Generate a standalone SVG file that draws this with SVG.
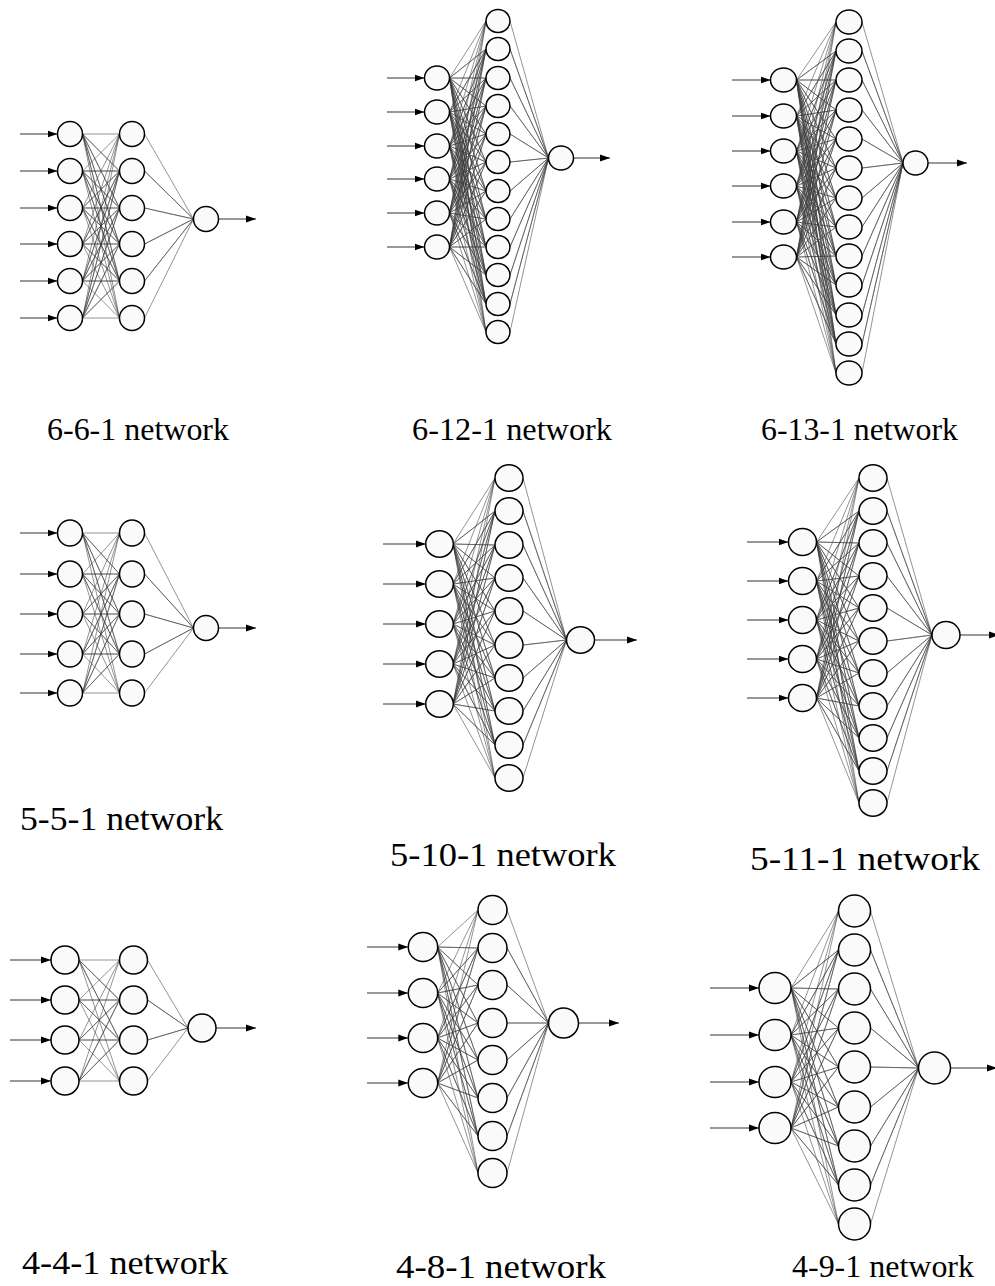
<svg xmlns="http://www.w3.org/2000/svg" width="995" height="1286" viewBox="0 0 995 1286">
<defs>
<style>
.n{fill:#fafafa;stroke:#000;stroke-width:1.5}
.e{fill:none;stroke:#3a3a3a;stroke-width:0.55;stroke-linejoin:round}
.a{fill:none;stroke:#333;stroke-width:1;marker-end:url(#ah)}
.t{font-family:"Liberation Serif","Times New Roman",serif;fill:#000}
</style>
<marker id="ah" markerUnits="userSpaceOnUse" markerWidth="10" markerHeight="8" refX="10" refY="4" orient="auto"><path d="M0,0.5L10,4L0,7.5z" fill="#000"/></marker>
</defs>
<rect width="995" height="1286" fill="#fff"/>

<!-- ===== 6-6-1 ===== -->
<g id="net-661">
<g id="net-661-edges">
<path class="e" d="M119.5,134 82.5,134 119.5,171 82.5,134 119.5,208 82.5,134 119.5,244 82.5,134 119.5,281 82.5,134 119.5,318
M119.5,134 82.5,171 119.5,171 82.5,171 119.5,208 82.5,171 119.5,244 82.5,171 119.5,281 82.5,171 119.5,318
M119.5,134 82.5,208 119.5,171 82.5,208 119.5,208 82.5,208 119.5,244 82.5,208 119.5,281 82.5,208 119.5,318
M119.5,134 82.5,244 119.5,171 82.5,244 119.5,208 82.5,244 119.5,244 82.5,244 119.5,281 82.5,244 119.5,318
M119.5,134 82.5,281 119.5,171 82.5,281 119.5,208 82.5,281 119.5,244 82.5,281 119.5,281 82.5,281 119.5,318
M119.5,134 82.5,318 119.5,171 82.5,318 119.5,208 82.5,318 119.5,244 82.5,318 119.5,281 82.5,318 119.5,318
M144.5,134 193.5,219 144.5,171 193.5,219 144.5,208 193.5,219 144.5,244 193.5,219 144.5,281 193.5,219 144.5,318"/>
<line class="a" x1="20" y1="134" x2="57.5" y2="134"/>
<line class="a" x1="20" y1="171" x2="57.5" y2="171"/>
<line class="a" x1="20" y1="208" x2="57.5" y2="208"/>
<line class="a" x1="20" y1="244" x2="57.5" y2="244"/>
<line class="a" x1="20" y1="281" x2="57.5" y2="281"/>
<line class="a" x1="20" y1="318" x2="57.5" y2="318"/>
<line class="a" x1="218.5" y1="219" x2="256" y2="219"/>
</g>
<g id="n661-i1"><ellipse class="n" cx="70" cy="134" rx="12.5" ry="12.5"/></g>
<g id="n661-i2"><ellipse class="n" cx="70" cy="171" rx="12.5" ry="12.5"/></g>
<g id="n661-i3"><ellipse class="n" cx="70" cy="208" rx="12.5" ry="12.5"/></g>
<g id="n661-i4"><ellipse class="n" cx="70" cy="244" rx="12.5" ry="12.5"/></g>
<g id="n661-i5"><ellipse class="n" cx="70" cy="281" rx="12.5" ry="12.5"/></g>
<g id="n661-i6"><ellipse class="n" cx="70" cy="318" rx="12.5" ry="12.5"/></g>
<g id="n661-h1"><ellipse class="n" cx="132" cy="134" rx="12.5" ry="12.5"/></g>
<g id="n661-h2"><ellipse class="n" cx="132" cy="171" rx="12.5" ry="12.5"/></g>
<g id="n661-h3"><ellipse class="n" cx="132" cy="208" rx="12.5" ry="12.5"/></g>
<g id="n661-h4"><ellipse class="n" cx="132" cy="244" rx="12.5" ry="12.5"/></g>
<g id="n661-h5"><ellipse class="n" cx="132" cy="281" rx="12.5" ry="12.5"/></g>
<g id="n661-h6"><ellipse class="n" cx="132" cy="318" rx="12.5" ry="12.5"/></g>
<g id="n661-o1"><ellipse class="n" cx="206" cy="219" rx="12.5" ry="12.5"/></g>
<text class="t" x="47" y="440" font-size="31" textLength="182" lengthAdjust="spacingAndGlyphs">6-6-1 network</text>
</g>

<!-- ===== 6-12-1 ===== -->
<g id="net-6121">
<g id="net-6121-edges">
<path class="e" d="M486,21 449.5,78 486,49 449.5,78 486,78 449.5,78 486,106 449.5,78 486,134 449.5,78 486,162 449.5,78 486,191 449.5,78 486,219 449.5,78 486,247 449.5,78 486,275 449.5,78 486,304 449.5,78 486,332
M486,21 449.5,112 486,49 449.5,112 486,78 449.5,112 486,106 449.5,112 486,134 449.5,112 486,162 449.5,112 486,191 449.5,112 486,219 449.5,112 486,247 449.5,112 486,275 449.5,112 486,304 449.5,112 486,332
M486,21 449.5,146 486,49 449.5,146 486,78 449.5,146 486,106 449.5,146 486,134 449.5,146 486,162 449.5,146 486,191 449.5,146 486,219 449.5,146 486,247 449.5,146 486,275 449.5,146 486,304 449.5,146 486,332
M486,21 449.5,179 486,49 449.5,179 486,78 449.5,179 486,106 449.5,179 486,134 449.5,179 486,162 449.5,179 486,191 449.5,179 486,219 449.5,179 486,247 449.5,179 486,275 449.5,179 486,304 449.5,179 486,332
M486,21 449.5,213 486,49 449.5,213 486,78 449.5,213 486,106 449.5,213 486,134 449.5,213 486,162 449.5,213 486,191 449.5,213 486,219 449.5,213 486,247 449.5,213 486,275 449.5,213 486,304 449.5,213 486,332
M486,21 449.5,247 486,49 449.5,247 486,78 449.5,247 486,106 449.5,247 486,134 449.5,247 486,162 449.5,247 486,191 449.5,247 486,219 449.5,247 486,247 449.5,247 486,275 449.5,247 486,304 449.5,247 486,332
M510,21 548.5,158 510,49 548.5,158 510,78 548.5,158 510,106 548.5,158 510,134 548.5,158 510,162 548.5,158 510,191 548.5,158 510,219 548.5,158 510,247 548.5,158 510,275 548.5,158 510,304 548.5,158 510,332"/>
<line class="a" x1="387" y1="78" x2="424.5" y2="78"/>
<line class="a" x1="387" y1="112" x2="424.5" y2="112"/>
<line class="a" x1="387" y1="146" x2="424.5" y2="146"/>
<line class="a" x1="387" y1="179" x2="424.5" y2="179"/>
<line class="a" x1="387" y1="213" x2="424.5" y2="213"/>
<line class="a" x1="387" y1="247" x2="424.5" y2="247"/>
<line class="a" x1="573.5" y1="158" x2="610" y2="158"/>
</g>
<g id="n6121-i1"><ellipse class="n" cx="437" cy="78" rx="12.5" ry="12"/></g>
<g id="n6121-i2"><ellipse class="n" cx="437" cy="112" rx="12.5" ry="12"/></g>
<g id="n6121-i3"><ellipse class="n" cx="437" cy="146" rx="12.5" ry="12"/></g>
<g id="n6121-i4"><ellipse class="n" cx="437" cy="179" rx="12.5" ry="12"/></g>
<g id="n6121-i5"><ellipse class="n" cx="437" cy="213" rx="12.5" ry="12"/></g>
<g id="n6121-i6"><ellipse class="n" cx="437" cy="247" rx="12.5" ry="12"/></g>
<g id="n6121-h1"><ellipse class="n" cx="498" cy="21" rx="12" ry="11.5"/></g>
<g id="n6121-h2"><ellipse class="n" cx="498" cy="49" rx="12" ry="11.5"/></g>
<g id="n6121-h3"><ellipse class="n" cx="498" cy="78" rx="12" ry="11.5"/></g>
<g id="n6121-h4"><ellipse class="n" cx="498" cy="106" rx="12" ry="11.5"/></g>
<g id="n6121-h5"><ellipse class="n" cx="498" cy="134" rx="12" ry="11.5"/></g>
<g id="n6121-h6"><ellipse class="n" cx="498" cy="162" rx="12" ry="11.5"/></g>
<g id="n6121-h7"><ellipse class="n" cx="498" cy="191" rx="12" ry="11.5"/></g>
<g id="n6121-h8"><ellipse class="n" cx="498" cy="219" rx="12" ry="11.5"/></g>
<g id="n6121-h9"><ellipse class="n" cx="498" cy="247" rx="12" ry="11.5"/></g>
<g id="n6121-h10"><ellipse class="n" cx="498" cy="275" rx="12" ry="11.5"/></g>
<g id="n6121-h11"><ellipse class="n" cx="498" cy="304" rx="12" ry="11.5"/></g>
<g id="n6121-h12"><ellipse class="n" cx="498" cy="332" rx="12" ry="11.5"/></g>
<g id="n6121-o1"><ellipse class="n" cx="561" cy="158" rx="12.5" ry="12"/></g>
<text class="t" x="412" y="440" font-size="31" textLength="200" lengthAdjust="spacingAndGlyphs">6-12-1 network</text>
</g>

<!-- ===== 6-13-1 ===== -->
<g id="net-6131">
<g id="net-6131-edges">
<path class="e" d="M836,22 796.5,80 836,51 796.5,80 836,80 796.5,80 836,110 796.5,80 836,139 796.5,80 836,168 796.5,80 836,198 796.5,80 836,227 796.5,80 836,256 796.5,80 836,285 796.5,80 836,315 796.5,80 836,344 796.5,80 836,373
M836,22 796.5,116 836,51 796.5,116 836,80 796.5,116 836,110 796.5,116 836,139 796.5,116 836,168 796.5,116 836,198 796.5,116 836,227 796.5,116 836,256 796.5,116 836,285 796.5,116 836,315 796.5,116 836,344 796.5,116 836,373
M836,22 796.5,151 836,51 796.5,151 836,80 796.5,151 836,110 796.5,151 836,139 796.5,151 836,168 796.5,151 836,198 796.5,151 836,227 796.5,151 836,256 796.5,151 836,285 796.5,151 836,315 796.5,151 836,344 796.5,151 836,373
M836,22 796.5,186 836,51 796.5,186 836,80 796.5,186 836,110 796.5,186 836,139 796.5,186 836,168 796.5,186 836,198 796.5,186 836,227 796.5,186 836,256 796.5,186 836,285 796.5,186 836,315 796.5,186 836,344 796.5,186 836,373
M836,22 796.5,222 836,51 796.5,222 836,80 796.5,222 836,110 796.5,222 836,139 796.5,222 836,168 796.5,222 836,198 796.5,222 836,227 796.5,222 836,256 796.5,222 836,285 796.5,222 836,315 796.5,222 836,344 796.5,222 836,373
M836,22 796.5,257 836,51 796.5,257 836,80 796.5,257 836,110 796.5,257 836,139 796.5,257 836,168 796.5,257 836,198 796.5,257 836,227 796.5,257 836,256 796.5,257 836,285 796.5,257 836,315 796.5,257 836,344 796.5,257 836,373
M862,22 903,163 862,51 903,163 862,80 903,163 862,110 903,163 862,139 903,163 862,168 903,163 862,198 903,163 862,227 903,163 862,256 903,163 862,285 903,163 862,315 903,163 862,344 903,163 862,373"/>
<line class="a" x1="732" y1="80" x2="770.5" y2="80"/>
<line class="a" x1="732" y1="116" x2="770.5" y2="116"/>
<line class="a" x1="732" y1="151" x2="770.5" y2="151"/>
<line class="a" x1="732" y1="186" x2="770.5" y2="186"/>
<line class="a" x1="732" y1="222" x2="770.5" y2="222"/>
<line class="a" x1="732" y1="257" x2="770.5" y2="257"/>
<line class="a" x1="928" y1="163" x2="967" y2="163"/>
</g>
<g id="n6131-i1"><ellipse class="n" cx="783.5" cy="80" rx="13" ry="12"/></g>
<g id="n6131-i2"><ellipse class="n" cx="783.5" cy="116" rx="13" ry="12"/></g>
<g id="n6131-i3"><ellipse class="n" cx="783.5" cy="151" rx="13" ry="12"/></g>
<g id="n6131-i4"><ellipse class="n" cx="783.5" cy="186" rx="13" ry="12"/></g>
<g id="n6131-i5"><ellipse class="n" cx="783.5" cy="222" rx="13" ry="12"/></g>
<g id="n6131-i6"><ellipse class="n" cx="783.5" cy="257" rx="13" ry="12"/></g>
<g id="n6131-h1"><ellipse class="n" cx="849" cy="22" rx="13" ry="12"/></g>
<g id="n6131-h2"><ellipse class="n" cx="849" cy="51" rx="13" ry="12"/></g>
<g id="n6131-h3"><ellipse class="n" cx="849" cy="80" rx="13" ry="12"/></g>
<g id="n6131-h4"><ellipse class="n" cx="849" cy="110" rx="13" ry="12"/></g>
<g id="n6131-h5"><ellipse class="n" cx="849" cy="139" rx="13" ry="12"/></g>
<g id="n6131-h6"><ellipse class="n" cx="849" cy="168" rx="13" ry="12"/></g>
<g id="n6131-h7"><ellipse class="n" cx="849" cy="198" rx="13" ry="12"/></g>
<g id="n6131-h8"><ellipse class="n" cx="849" cy="227" rx="13" ry="12"/></g>
<g id="n6131-h9"><ellipse class="n" cx="849" cy="256" rx="13" ry="12"/></g>
<g id="n6131-h10"><ellipse class="n" cx="849" cy="285" rx="13" ry="12"/></g>
<g id="n6131-h11"><ellipse class="n" cx="849" cy="315" rx="13" ry="12"/></g>
<g id="n6131-h12"><ellipse class="n" cx="849" cy="344" rx="13" ry="12"/></g>
<g id="n6131-h13"><ellipse class="n" cx="849" cy="373" rx="13" ry="12"/></g>
<g id="n6131-o1"><ellipse class="n" cx="915.5" cy="163" rx="12.5" ry="12"/></g>
<text class="t" x="761" y="440" font-size="31" textLength="197" lengthAdjust="spacingAndGlyphs">6-13-1 network</text>
</g>

<!-- ===== 5-5-1 ===== -->
<g id="net-551">
<g id="net-551-edges">
<path class="e" d="M119.5,533 82.5,533 119.5,574 82.5,533 119.5,614 82.5,533 119.5,654 82.5,533 119.5,693
M119.5,533 82.5,574 119.5,574 82.5,574 119.5,614 82.5,574 119.5,654 82.5,574 119.5,693
M119.5,533 82.5,614 119.5,574 82.5,614 119.5,614 82.5,614 119.5,654 82.5,614 119.5,693
M119.5,533 82.5,654 119.5,574 82.5,654 119.5,614 82.5,654 119.5,654 82.5,654 119.5,693
M119.5,533 82.5,693 119.5,574 82.5,693 119.5,614 82.5,693 119.5,654 82.5,693 119.5,693
M144.5,533 193.5,628 144.5,574 193.5,628 144.5,614 193.5,628 144.5,654 193.5,628 144.5,693"/>
<line class="a" x1="20" y1="533" x2="57.5" y2="533"/>
<line class="a" x1="20" y1="574" x2="57.5" y2="574"/>
<line class="a" x1="20" y1="614" x2="57.5" y2="614"/>
<line class="a" x1="20" y1="654" x2="57.5" y2="654"/>
<line class="a" x1="20" y1="693" x2="57.5" y2="693"/>
<line class="a" x1="218.5" y1="628" x2="256" y2="628"/>
</g>
<g id="n551-i1"><ellipse class="n" cx="70" cy="533" rx="12.5" ry="13"/></g>
<g id="n551-i2"><ellipse class="n" cx="70" cy="574" rx="12.5" ry="13"/></g>
<g id="n551-i3"><ellipse class="n" cx="70" cy="614" rx="12.5" ry="13"/></g>
<g id="n551-i4"><ellipse class="n" cx="70" cy="654" rx="12.5" ry="13"/></g>
<g id="n551-i5"><ellipse class="n" cx="70" cy="693" rx="12.5" ry="13"/></g>
<g id="n551-h1"><ellipse class="n" cx="132" cy="533" rx="12.5" ry="13"/></g>
<g id="n551-h2"><ellipse class="n" cx="132" cy="574" rx="12.5" ry="13"/></g>
<g id="n551-h3"><ellipse class="n" cx="132" cy="614" rx="12.5" ry="13"/></g>
<g id="n551-h4"><ellipse class="n" cx="132" cy="654" rx="12.5" ry="13"/></g>
<g id="n551-h5"><ellipse class="n" cx="132" cy="693" rx="12.5" ry="13"/></g>
<g id="n551-o1"><ellipse class="n" cx="206" cy="628" rx="12.5" ry="12.5"/></g>
<text class="t" x="20" y="830" font-size="33" textLength="203" lengthAdjust="spacingAndGlyphs">5-5-1 network</text>
</g>

<!-- ===== 5-10-1 ===== -->
<g id="net-5101">
<g id="net-5101-edges">
<path class="e" d="M495,478 453,544 495,511 453,544 495,545 453,544 495,578 453,544 495,611 453,544 495,645 453,544 495,678 453,544 495,711 453,544 495,745 453,544 495,778
M495,478 453,584 495,511 453,584 495,545 453,584 495,578 453,584 495,611 453,584 495,645 453,584 495,678 453,584 495,711 453,584 495,745 453,584 495,778
M495,478 453,624 495,511 453,624 495,545 453,624 495,578 453,624 495,611 453,624 495,645 453,624 495,678 453,624 495,711 453,624 495,745 453,624 495,778
M495,478 453,664 495,511 453,664 495,545 453,664 495,578 453,664 495,611 453,664 495,645 453,664 495,678 453,664 495,711 453,664 495,745 453,664 495,778
M495,478 453,704 495,511 453,704 495,545 453,704 495,578 453,704 495,611 453,704 495,645 453,704 495,678 453,704 495,711 453,704 495,745 453,704 495,778
M523,478 566.5,640 523,511 566.5,640 523,545 566.5,640 523,578 566.5,640 523,611 566.5,640 523,645 566.5,640 523,678 566.5,640 523,711 566.5,640 523,745 566.5,640 523,778"/>
<line class="a" x1="383" y1="544" x2="425.7" y2="544"/>
<line class="a" x1="383" y1="584" x2="425.7" y2="584"/>
<line class="a" x1="383" y1="624" x2="425.7" y2="624"/>
<line class="a" x1="383" y1="664" x2="425.7" y2="664"/>
<line class="a" x1="383" y1="704" x2="425.7" y2="704"/>
<line class="a" x1="594.5" y1="640" x2="637" y2="640"/>
</g>
<g id="n5101-i1"><ellipse class="n" cx="439.5" cy="544" rx="13.8" ry="13.3"/></g>
<g id="n5101-i2"><ellipse class="n" cx="439.5" cy="584" rx="13.8" ry="13.3"/></g>
<g id="n5101-i3"><ellipse class="n" cx="439.5" cy="624" rx="13.8" ry="13.3"/></g>
<g id="n5101-i4"><ellipse class="n" cx="439.5" cy="664" rx="13.8" ry="13.3"/></g>
<g id="n5101-i5"><ellipse class="n" cx="439.5" cy="704" rx="13.8" ry="13.3"/></g>
<g id="n5101-h1"><ellipse class="n" cx="509" cy="478" rx="14" ry="13.3"/></g>
<g id="n5101-h2"><ellipse class="n" cx="509" cy="511" rx="14" ry="13.3"/></g>
<g id="n5101-h3"><ellipse class="n" cx="509" cy="545" rx="14" ry="13.3"/></g>
<g id="n5101-h4"><ellipse class="n" cx="509" cy="578" rx="14" ry="13.3"/></g>
<g id="n5101-h5"><ellipse class="n" cx="509" cy="611" rx="14" ry="13.3"/></g>
<g id="n5101-h6"><ellipse class="n" cx="509" cy="645" rx="14" ry="13.3"/></g>
<g id="n5101-h7"><ellipse class="n" cx="509" cy="678" rx="14" ry="13.3"/></g>
<g id="n5101-h8"><ellipse class="n" cx="509" cy="711" rx="14" ry="13.3"/></g>
<g id="n5101-h9"><ellipse class="n" cx="509" cy="745" rx="14" ry="13.3"/></g>
<g id="n5101-h10"><ellipse class="n" cx="509" cy="778" rx="14" ry="13.3"/></g>
<g id="n5101-o1"><ellipse class="n" cx="580.5" cy="640" rx="14" ry="13.3"/></g>
<text class="t" x="390" y="866" font-size="33" textLength="226" lengthAdjust="spacingAndGlyphs">5-10-1 network</text>
</g>

<!-- ===== 5-11-1 ===== -->
<g id="net-5111">
<g id="net-5111-edges">
<path class="e" d="M859,478 816.5,542 859,511 816.5,542 859,543 816.5,542 859,576 816.5,542 859,608 816.5,542 859,641 816.5,542 859,673 816.5,542 859,706 816.5,542 859,738 816.5,542 859,771 816.5,542 859,803
M859,478 816.5,581 859,511 816.5,581 859,543 816.5,581 859,576 816.5,581 859,608 816.5,581 859,641 816.5,581 859,673 816.5,581 859,706 816.5,581 859,738 816.5,581 859,771 816.5,581 859,803
M859,478 816.5,620 859,511 816.5,620 859,543 816.5,620 859,576 816.5,620 859,608 816.5,620 859,641 816.5,620 859,673 816.5,620 859,706 816.5,620 859,738 816.5,620 859,771 816.5,620 859,803
M859,478 816.5,659 859,511 816.5,659 859,543 816.5,659 859,576 816.5,659 859,608 816.5,659 859,641 816.5,659 859,673 816.5,659 859,706 816.5,659 859,738 816.5,659 859,771 816.5,659 859,803
M859,478 816.5,698 859,511 816.5,698 859,543 816.5,698 859,576 816.5,698 859,608 816.5,698 859,641 816.5,698 859,673 816.5,698 859,706 816.5,698 859,738 816.5,698 859,771 816.5,698 859,803
M887,478 932,635 887,511 932,635 887,543 932,635 887,576 932,635 887,608 932,635 887,641 932,635 887,673 932,635 887,706 932,635 887,738 932,635 887,771 932,635 887,803"/>
<line class="a" x1="747" y1="542" x2="788.5" y2="542"/>
<line class="a" x1="747" y1="581" x2="788.5" y2="581"/>
<line class="a" x1="747" y1="620" x2="788.5" y2="620"/>
<line class="a" x1="747" y1="659" x2="788.5" y2="659"/>
<line class="a" x1="747" y1="698" x2="788.5" y2="698"/>
<line class="a" x1="960" y1="635" x2="999" y2="635"/>
</g>
<g id="n5111-i1"><ellipse class="n" cx="802.5" cy="542" rx="14" ry="13.5"/></g>
<g id="n5111-i2"><ellipse class="n" cx="802.5" cy="581" rx="14" ry="13.5"/></g>
<g id="n5111-i3"><ellipse class="n" cx="802.5" cy="620" rx="14" ry="13.5"/></g>
<g id="n5111-i4"><ellipse class="n" cx="802.5" cy="659" rx="14" ry="13.5"/></g>
<g id="n5111-i5"><ellipse class="n" cx="802.5" cy="698" rx="14" ry="13.5"/></g>
<g id="n5111-h1"><ellipse class="n" cx="873" cy="478" rx="14" ry="13.3"/></g>
<g id="n5111-h2"><ellipse class="n" cx="873" cy="511" rx="14" ry="13.3"/></g>
<g id="n5111-h3"><ellipse class="n" cx="873" cy="543" rx="14" ry="13.3"/></g>
<g id="n5111-h4"><ellipse class="n" cx="873" cy="576" rx="14" ry="13.3"/></g>
<g id="n5111-h5"><ellipse class="n" cx="873" cy="608" rx="14" ry="13.3"/></g>
<g id="n5111-h6"><ellipse class="n" cx="873" cy="641" rx="14" ry="13.3"/></g>
<g id="n5111-h7"><ellipse class="n" cx="873" cy="673" rx="14" ry="13.3"/></g>
<g id="n5111-h8"><ellipse class="n" cx="873" cy="706" rx="14" ry="13.3"/></g>
<g id="n5111-h9"><ellipse class="n" cx="873" cy="738" rx="14" ry="13.3"/></g>
<g id="n5111-h10"><ellipse class="n" cx="873" cy="771" rx="14" ry="13.3"/></g>
<g id="n5111-h11"><ellipse class="n" cx="873" cy="803" rx="14" ry="13.3"/></g>
<g id="n5111-o1"><ellipse class="n" cx="946" cy="635" rx="14" ry="13.5"/></g>
<text class="t" x="750" y="870" font-size="33" textLength="230" lengthAdjust="spacingAndGlyphs">5-11-1 network</text>
</g>

<!-- ===== 4-4-1 ===== -->
<g id="net-441">
<g id="net-441-edges">
<path class="e" d="M119.5,960 79,960 119.5,1000 79,960 119.5,1040 79,960 119.5,1081
M119.5,960 79,1000 119.5,1000 79,1000 119.5,1040 79,1000 119.5,1081
M119.5,960 79,1040 119.5,1000 79,1040 119.5,1040 79,1040 119.5,1081
M119.5,960 79,1081 119.5,1000 79,1081 119.5,1040 79,1081 119.5,1081
M147.5,960 188,1028 147.5,1000 188,1028 147.5,1040 188,1028 147.5,1081"/>
<line class="a" x1="10" y1="960" x2="51" y2="960"/>
<line class="a" x1="10" y1="1000" x2="51" y2="1000"/>
<line class="a" x1="10" y1="1040" x2="51" y2="1040"/>
<line class="a" x1="10" y1="1081" x2="51" y2="1081"/>
<line class="a" x1="216" y1="1028" x2="256" y2="1028"/>
</g>
<g id="n441-i1"><ellipse class="n" cx="65" cy="960" rx="14" ry="14"/></g>
<g id="n441-i2"><ellipse class="n" cx="65" cy="1000" rx="14" ry="14"/></g>
<g id="n441-i3"><ellipse class="n" cx="65" cy="1040" rx="14" ry="14"/></g>
<g id="n441-i4"><ellipse class="n" cx="65" cy="1081" rx="14" ry="14"/></g>
<g id="n441-h1"><ellipse class="n" cx="133.5" cy="960" rx="14" ry="14"/></g>
<g id="n441-h2"><ellipse class="n" cx="133.5" cy="1000" rx="14" ry="14"/></g>
<g id="n441-h3"><ellipse class="n" cx="133.5" cy="1040" rx="14" ry="14"/></g>
<g id="n441-h4"><ellipse class="n" cx="133.5" cy="1081" rx="14" ry="14"/></g>
<g id="n441-o1"><ellipse class="n" cx="202" cy="1028" rx="14" ry="14"/></g>
<text class="t" x="22" y="1274" font-size="33" textLength="206" lengthAdjust="spacingAndGlyphs">4-4-1 network</text>
</g>

<!-- ===== 4-8-1 ===== -->
<g id="net-481">
<g id="net-481-edges">
<path class="e" d="M478,910 437.5,947 478,948 437.5,947 478,985 437.5,947 478,1023 437.5,947 478,1060 437.5,947 478,1098 437.5,947 478,1136 437.5,947 478,1173
M478,910 437.5,993 478,948 437.5,993 478,985 437.5,993 478,1023 437.5,993 478,1060 437.5,993 478,1098 437.5,993 478,1136 437.5,993 478,1173
M478,910 437.5,1038 478,948 437.5,1038 478,985 437.5,1038 478,1023 437.5,1038 478,1060 437.5,1038 478,1098 437.5,1038 478,1136 437.5,1038 478,1173
M478,910 437.5,1083 478,948 437.5,1083 478,985 437.5,1083 478,1023 437.5,1083 478,1060 437.5,1083 478,1098 437.5,1083 478,1136 437.5,1083 478,1173
M507,910 548.5,1023 507,948 548.5,1023 507,985 548.5,1023 507,1023 548.5,1023 507,1060 548.5,1023 507,1098 548.5,1023 507,1136 548.5,1023 507,1173"/>
<line class="a" x1="367" y1="947" x2="408.3" y2="947"/>
<line class="a" x1="367" y1="993" x2="408.3" y2="993"/>
<line class="a" x1="367" y1="1038" x2="408.3" y2="1038"/>
<line class="a" x1="367" y1="1083" x2="408.3" y2="1083"/>
<line class="a" x1="578.5" y1="1023" x2="619" y2="1023"/>
</g>
<g id="n481-i1"><ellipse class="n" cx="423" cy="947" rx="14.7" ry="14.5"/></g>
<g id="n481-i2"><ellipse class="n" cx="423" cy="993" rx="14.7" ry="14.5"/></g>
<g id="n481-i3"><ellipse class="n" cx="423" cy="1038" rx="14.7" ry="14.5"/></g>
<g id="n481-i4"><ellipse class="n" cx="423" cy="1083" rx="14.7" ry="14.5"/></g>
<g id="n481-h1"><ellipse class="n" cx="492.5" cy="910" rx="14.5" ry="14.5"/></g>
<g id="n481-h2"><ellipse class="n" cx="492.5" cy="948" rx="14.5" ry="14.5"/></g>
<g id="n481-h3"><ellipse class="n" cx="492.5" cy="985" rx="14.5" ry="14.5"/></g>
<g id="n481-h4"><ellipse class="n" cx="492.5" cy="1023" rx="14.5" ry="14.5"/></g>
<g id="n481-h5"><ellipse class="n" cx="492.5" cy="1060" rx="14.5" ry="14.5"/></g>
<g id="n481-h6"><ellipse class="n" cx="492.5" cy="1098" rx="14.5" ry="14.5"/></g>
<g id="n481-h7"><ellipse class="n" cx="492.5" cy="1136" rx="14.5" ry="14.5"/></g>
<g id="n481-h8"><ellipse class="n" cx="492.5" cy="1173" rx="14.5" ry="14.5"/></g>
<g id="n481-o1"><ellipse class="n" cx="563.5" cy="1023" rx="15" ry="15"/></g>
<text class="t" x="396" y="1278" font-size="33" textLength="210" lengthAdjust="spacingAndGlyphs">4-8-1 network</text>
</g>

<!-- ===== 4-9-1 ===== -->
<g id="net-491">
<g id="net-491-edges">
<path class="e" d="M838.5,911 791,988 838.5,950 791,988 838.5,989 791,988 838.5,1028 791,988 838.5,1067 791,988 838.5,1107 791,988 838.5,1146 791,988 838.5,1185 791,988 838.5,1224
M838.5,911 791,1035 838.5,950 791,1035 838.5,989 791,1035 838.5,1028 791,1035 838.5,1067 791,1035 838.5,1107 791,1035 838.5,1146 791,1035 838.5,1185 791,1035 838.5,1224
M838.5,911 791,1082 838.5,950 791,1082 838.5,989 791,1082 838.5,1028 791,1082 838.5,1067 791,1082 838.5,1107 791,1082 838.5,1146 791,1082 838.5,1185 791,1082 838.5,1224
M838.5,911 791,1128 838.5,950 791,1128 838.5,989 791,1128 838.5,1028 791,1128 838.5,1067 791,1128 838.5,1107 791,1128 838.5,1146 791,1128 838.5,1185 791,1128 838.5,1224
M870.5,911 918.5,1068 870.5,950 918.5,1068 870.5,989 918.5,1068 870.5,1028 918.5,1068 870.5,1067 918.5,1068 870.5,1107 918.5,1068 870.5,1146 918.5,1068 870.5,1185 918.5,1068 870.5,1224"/>
<line class="a" x1="710" y1="988" x2="759" y2="988"/>
<line class="a" x1="710" y1="1035" x2="759" y2="1035"/>
<line class="a" x1="710" y1="1082" x2="759" y2="1082"/>
<line class="a" x1="710" y1="1128" x2="759" y2="1128"/>
<line class="a" x1="950.5" y1="1068" x2="997" y2="1068"/>
</g>
<g id="n491-i1"><ellipse class="n" cx="775" cy="988" rx="16" ry="15.5"/></g>
<g id="n491-i2"><ellipse class="n" cx="775" cy="1035" rx="16" ry="15.5"/></g>
<g id="n491-i3"><ellipse class="n" cx="775" cy="1082" rx="16" ry="15.5"/></g>
<g id="n491-i4"><ellipse class="n" cx="775" cy="1128" rx="16" ry="15.5"/></g>
<g id="n491-h1"><ellipse class="n" cx="854.5" cy="911" rx="16" ry="16"/></g>
<g id="n491-h2"><ellipse class="n" cx="854.5" cy="950" rx="16" ry="16"/></g>
<g id="n491-h3"><ellipse class="n" cx="854.5" cy="989" rx="16" ry="16"/></g>
<g id="n491-h4"><ellipse class="n" cx="854.5" cy="1028" rx="16" ry="16"/></g>
<g id="n491-h5"><ellipse class="n" cx="854.5" cy="1067" rx="16" ry="16"/></g>
<g id="n491-h6"><ellipse class="n" cx="854.5" cy="1107" rx="16" ry="16"/></g>
<g id="n491-h7"><ellipse class="n" cx="854.5" cy="1146" rx="16" ry="16"/></g>
<g id="n491-h8"><ellipse class="n" cx="854.5" cy="1185" rx="16" ry="16"/></g>
<g id="n491-h9"><ellipse class="n" cx="854.5" cy="1224" rx="16" ry="16"/></g>
<g id="n491-o1"><ellipse class="n" cx="934.5" cy="1068" rx="16" ry="16"/></g>
<text class="t" x="792" y="1277" font-size="31" textLength="182" lengthAdjust="spacingAndGlyphs">4-9-1 network</text>
</g>
</svg>
